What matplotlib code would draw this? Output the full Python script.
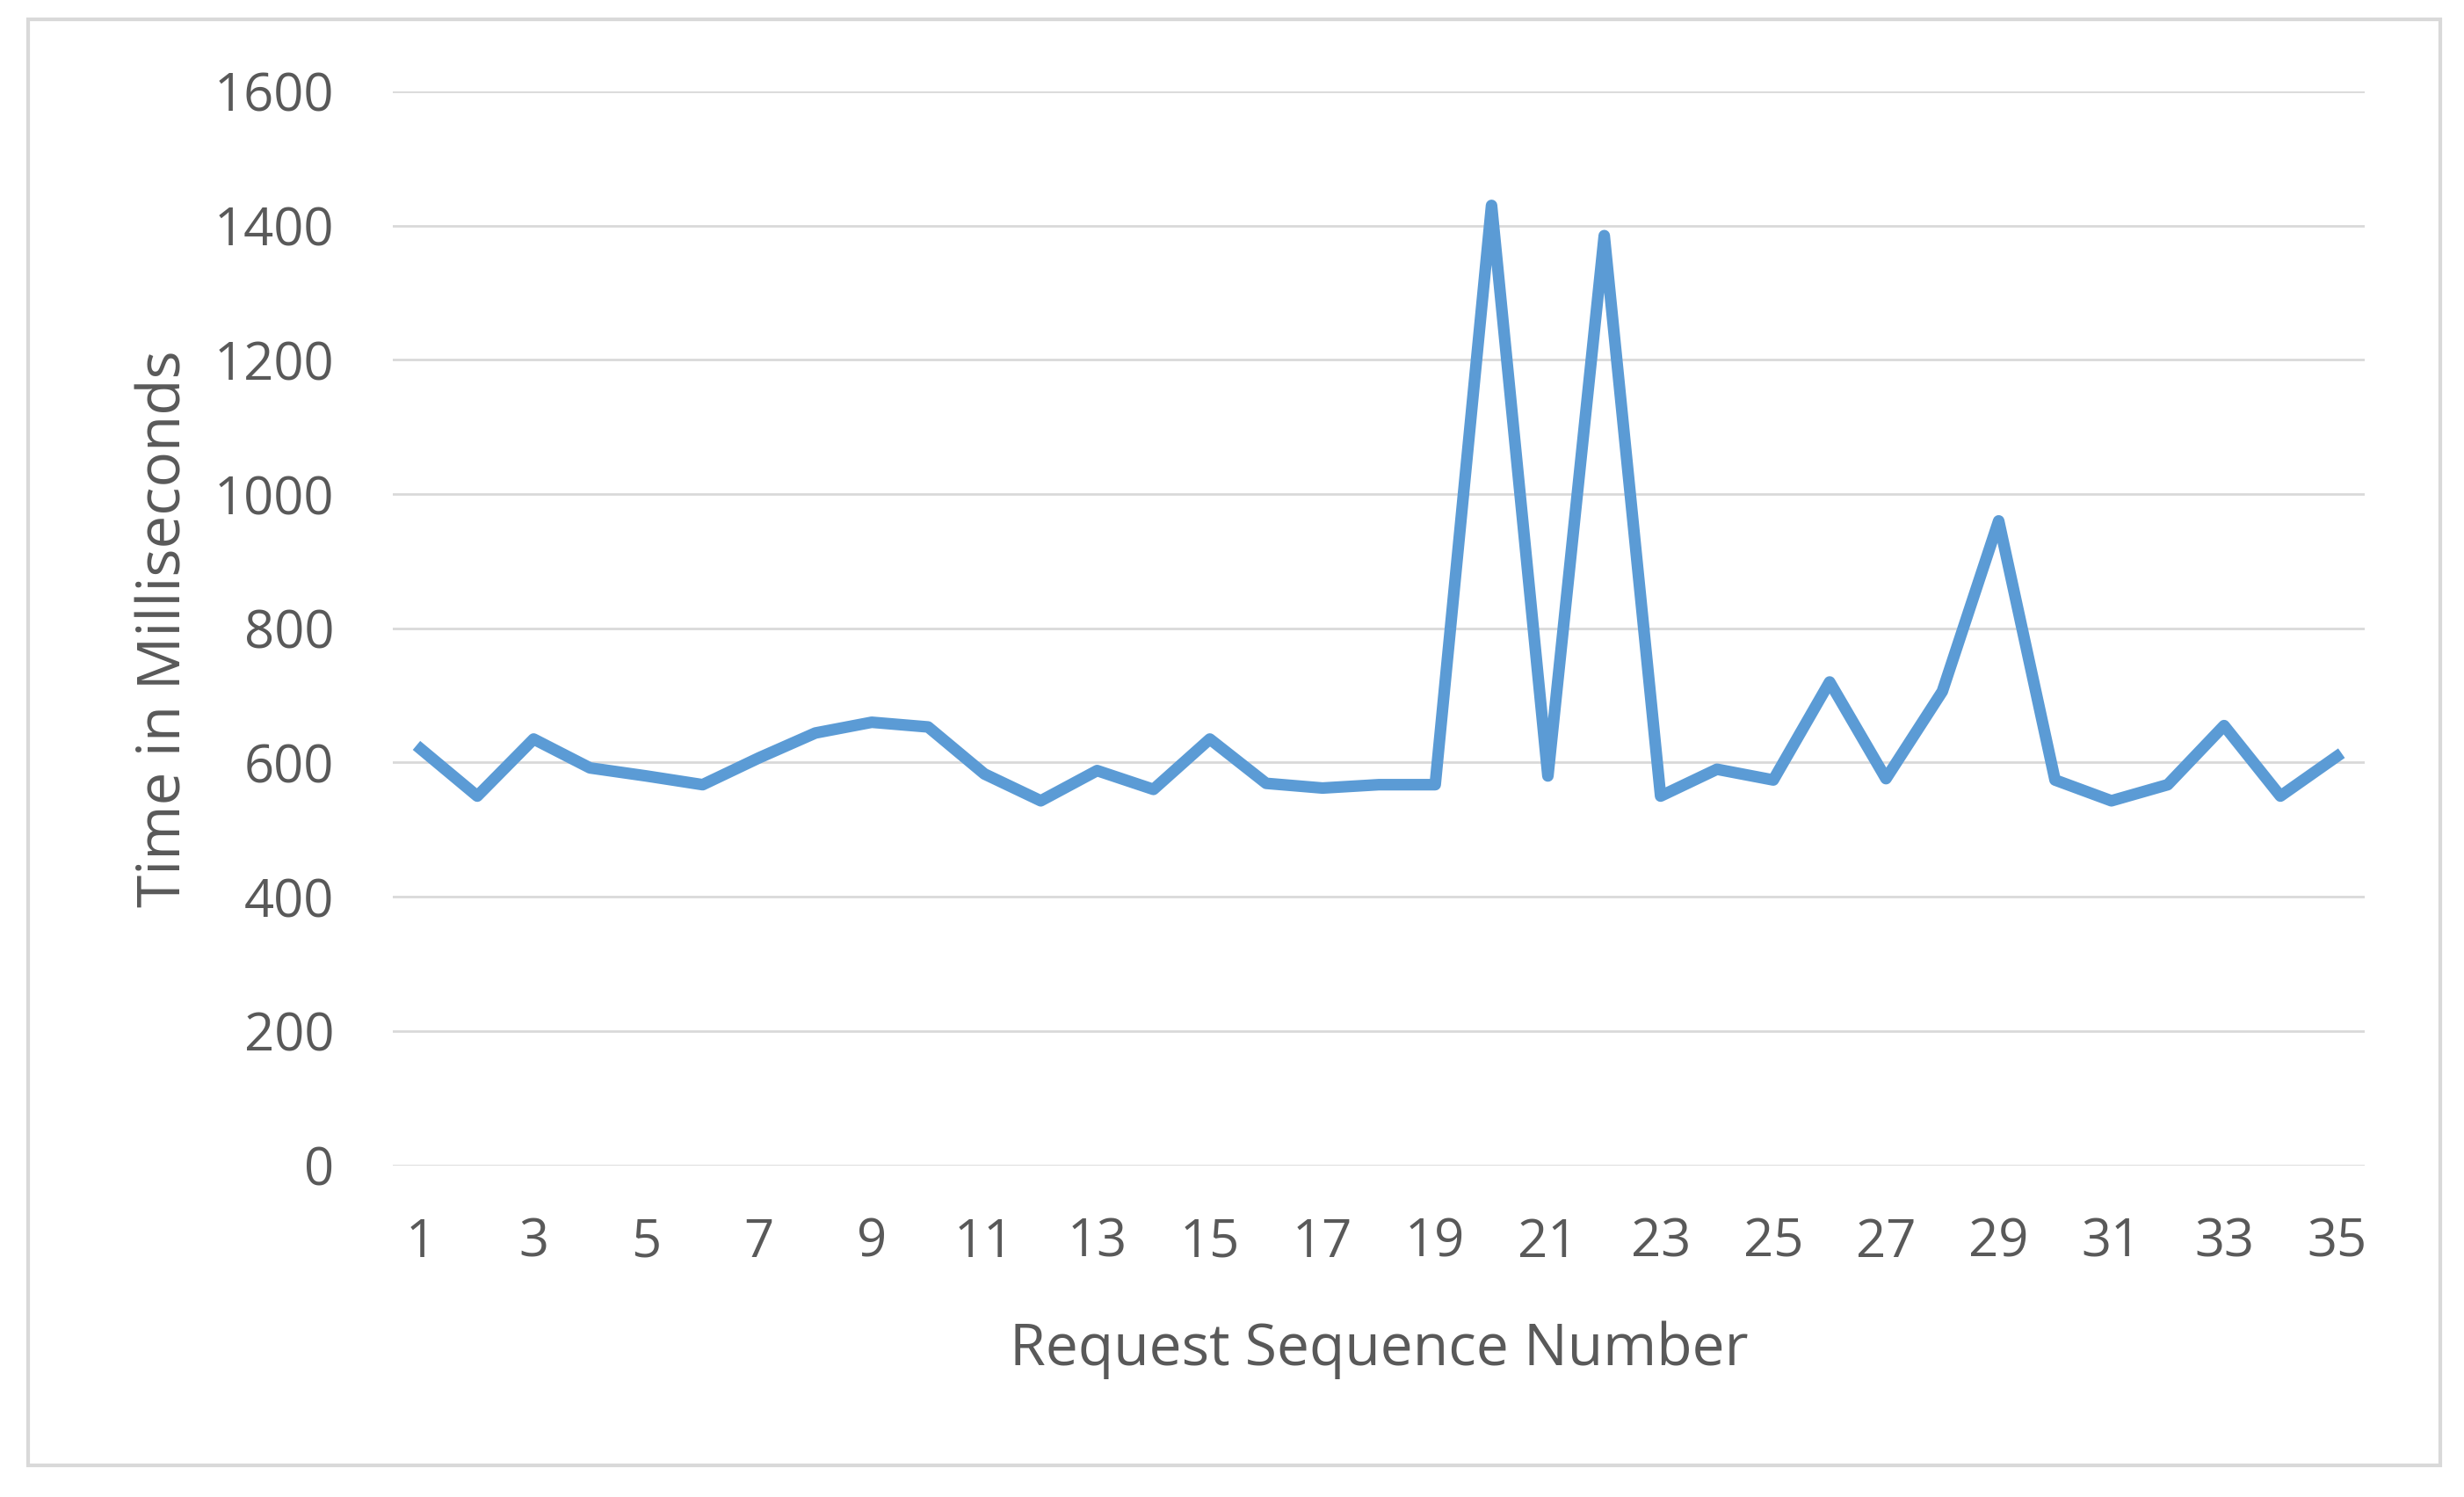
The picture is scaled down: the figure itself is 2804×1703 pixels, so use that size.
import numpy as np
import matplotlib.pyplot as plt
from matplotlib.patches import Rectangle

# request sequence numbers and response times (ms)
seq = np.arange(1, 36)
times = [620, 550, 635, 592, 580, 567, 607, 644, 660, 653,
         583, 543, 588, 560, 635, 569, 562, 567, 567, 1430,
         580, 1385, 550, 590, 574, 720, 576, 706, 960, 574,
         543, 567, 655, 550, 609]

plt.rcParams['font.family'] = ['Open Sans', 'DejaVu Sans']
text_col = '#595959'

fig = plt.figure(figsize=(28.04, 17.03), dpi=100)
ax = fig.add_axes([0.1594, 0.2216, 0.8004, 0.7174])

ax.plot(seq, times, color='#5B9BD5', lw=9.5, solid_joinstyle='round')

ax.set_xlim(0.5, 35.5)
ax.set_ylim(0, 1600)
ax.set_yticks(np.arange(0, 1601, 200))
ax.set_xticks(np.arange(1, 36, 2))
ax.grid(axis='y', color='#D9D9D9', lw=2)
ax.set_axisbelow(True)

for s in ax.spines.values():
    s.set_visible(False)

ax.tick_params(axis='both', length=0, labelsize=43, colors=text_col)
ax.tick_params(axis='x', pad=42)
ax.tick_params(axis='y', pad=48)

ax.set_xlabel('Request Sequence Number', fontsize=47.5, color=text_col, labelpad=42)
ax.set_ylabel('Time in Milliseconds', fontsize=48.5, color=text_col, labelpad=16)

# outer chart border
fig.patches.append(Rectangle((0.0114, 0.021), 0.979, 0.966, transform=fig.transFigure,
                             fill=False, edgecolor='#D9D9D9', lw=3))

fig.savefig('out.png', dpi=100, facecolor='white')
